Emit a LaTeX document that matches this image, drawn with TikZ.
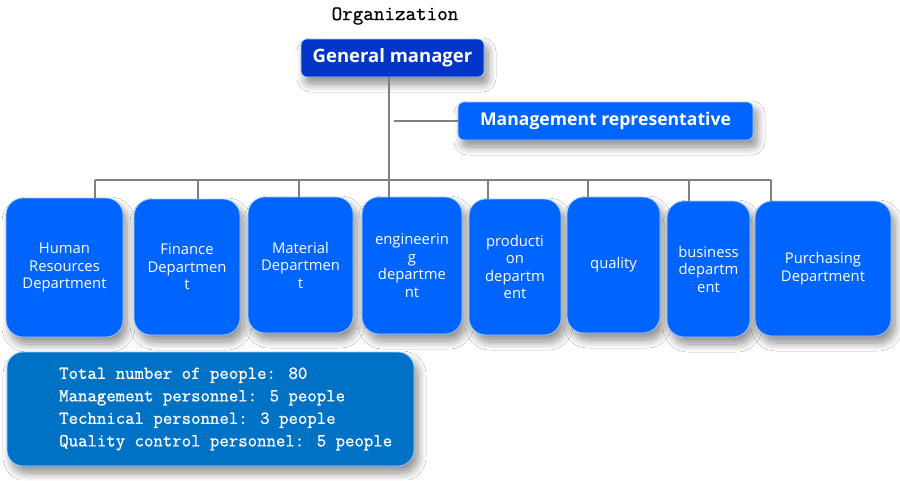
\documentclass[tikz,border=0pt]{standalone}
\usepackage{fontspec}
\newfontfamily\boxfont{Open Sans}
\newfontfamily\monofont{Latin Modern Mono}[FakeBold=0.9]
\usetikzlibrary{shadows.blur}
\definecolor{gmblue}{HTML}{0035C8}
\definecolor{deptblue}{HTML}{0064FF}
\definecolor{statblue}{HTML}{0072C6}
\definecolor{edgeblue}{HTML}{A8CCFF}
\definecolor{linegray}{HTML}{7F7F7F}
\tikzset{
  sh/.style={blur shadow={shadow xshift=4pt, shadow yshift=-7pt, shadow blur radius=8pt, shadow blur steps=12, shadow opacity=45}},
  topbox/.style={sh, rectangle, rounded corners=6pt, draw=edgeblue, line width=0.7pt, text=white,
     font=\boxfont\bfseries\fontsize{18.5}{22}\selectfont, inner sep=0pt},
  deptbox/.style={sh, rectangle, rounded corners=17pt, fill=deptblue, draw=edgeblue, line width=0.7pt, text=white,
     align=center, font=\boxfont\fontsize{14.8}{17.5}\selectfont, inner sep=0pt},
  conn/.style={draw=linegray, line width=1.1pt},
}
\begin{document}
\begin{tikzpicture}[x=1pt,y=-1pt]
\path[use as bounding box, fill=white] (0,0) rectangle (900,480);

\node[font=\monofont\fontsize{20.5}{24}\selectfont] (title) at (395,16) {Organization};

\node[topbox, fill=gmblue, minimum width=183pt, minimum height=38pt] (gm) at (392.5,58) {General manager};
\node[topbox, fill=deptblue, minimum width=295pt, minimum height=38pt, font=\boxfont\bfseries\fontsize{17.6}{21}\selectfont] (rep) at (605.5,121) {Management representative};

\node[deptbox, minimum width=117pt, minimum height=139pt] (hr) at (64.5,267.5) {Human\\Resources\\Department};
\node[deptbox, minimum width=106pt, minimum height=136pt] (fin) at (187,267) {Finance\\Departmen\\t};
\node[deptbox, minimum width=105pt, minimum height=136pt] (mat) at (300.5,265) {Material\\Departmen\\t};
\node[deptbox, minimum width=100pt, minimum height=137pt] (eng) at (412,265.5) {engineerin\\g\\departme\\nt};
\node[deptbox, minimum width=92pt, minimum height=136pt] (prod) at (515,267) {producti\\on\\departm\\ent};
\node[deptbox, minimum width=93pt, minimum height=136pt] (qual) at (613.5,265) {quality};
\node[deptbox, minimum width=83pt, minimum height=136pt] (bus) at (708.5,269) {business\\departm\\ent};
\node[deptbox, minimum width=136pt, minimum height=135pt] (pur) at (823,268.5) {Purchasing\\Department};

\node[sh, rectangle, rounded corners=16pt, fill=statblue, draw=edgeblue, line width=0.7pt,
      minimum width=407pt, minimum height=114pt, inner sep=0pt] (stats) at (210.5,409) {};
\node[anchor=west, text=white, align=left, inner sep=0pt,
      font=\monofont\fontsize{18.3}{22.5}\selectfont] (statstext) at (59,409)
  {Total number of people: 80\\Management personnel: 5 people\\Technical personnel: 3 people\\Quality control personnel: 5 people};

% connectors
\coordinate (d1) at (95,180);
\coordinate (d2) at (198,180);
\coordinate (d3) at (299,180);
\coordinate (d4) at (389,180);
\coordinate (d5) at (488,180);
\coordinate (d6) at (588,180);
\coordinate (d7) at (689,180);
\coordinate (d8) at (771,180);
\coordinate (r0) at (394,121);

\draw[conn] (d1) -- (d8);
\draw[conn] (d4 |- gm.south) -- (d4);
\draw[conn] (r0) -- (rep.west);
\draw[conn] (d1) -- (d1 |- hr.north);
\draw[conn] (d2) -- (d2 |- fin.north);
\draw[conn] (d3) -- (d3 |- mat.north);
\draw[conn] (d4) -- (d4 |- eng.north);
\draw[conn] (d5) -- (d5 |- prod.north);
\draw[conn] (d6) -- (d6 |- qual.north);
\draw[conn] (d7) -- (d7 |- bus.north);
\draw[conn] (d8) -- (d8 |- pur.north);
\end{tikzpicture}
\end{document}
